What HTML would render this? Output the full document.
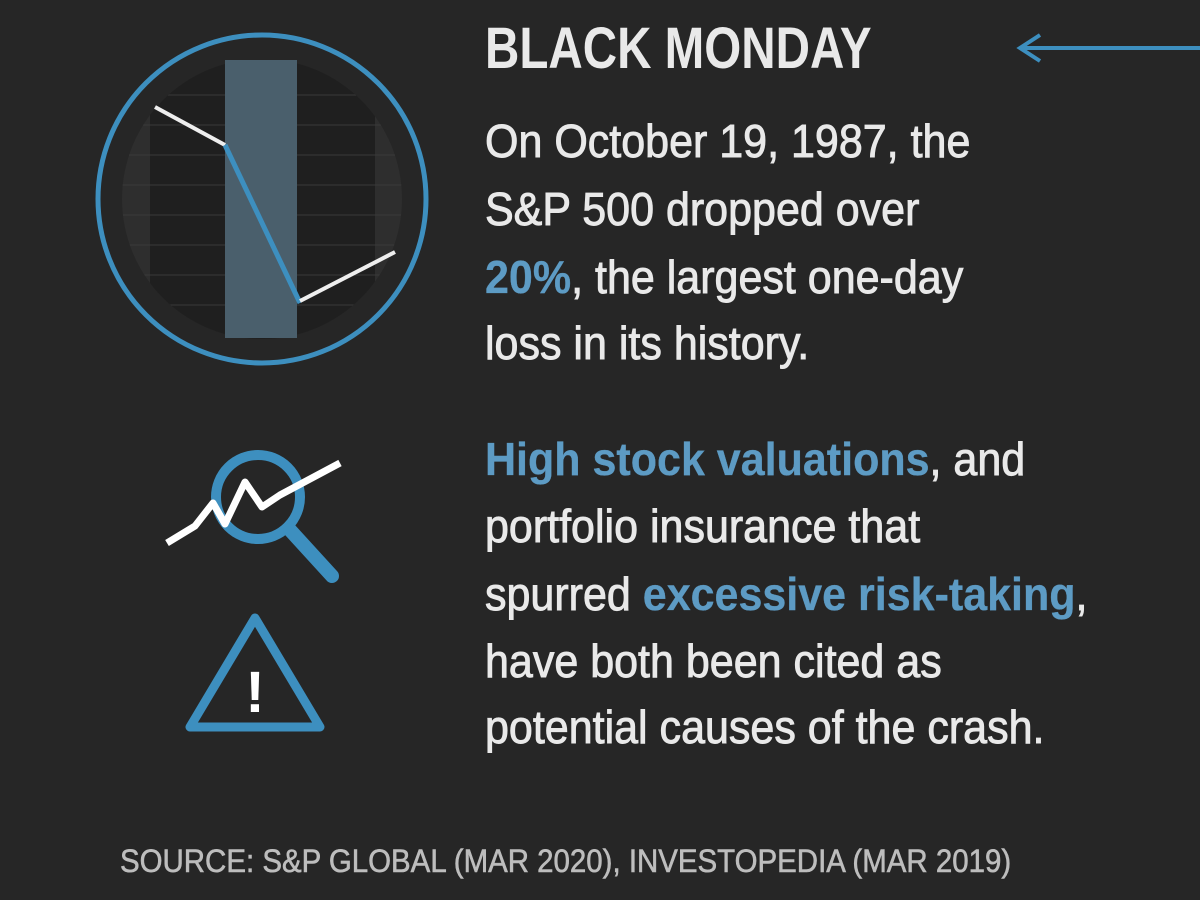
<!DOCTYPE html>
<html><head><style>
body{margin:0;width:1200px;height:900px;background:#262626;overflow:hidden;position:relative;font-family:"Liberation Sans Narrow","Liberation Sans",sans-serif;}
.t{position:absolute;left:485px;white-space:nowrap;transform-origin:0 0;transform:scaleX(0.935);color:#e9e9e9;}
.b{font-size:46px;line-height:46px;-webkit-text-stroke:0.9px #e9e9e9;}
.c{color:#5d9bc4;font-weight:bold;-webkit-text-stroke:0.3px #5d9bc4;}
</style></head><body>
<svg width="1200" height="900" style="position:absolute;left:0;top:0">
<defs><clipPath id="cc"><circle cx="262" cy="199" r="140"/></clipPath></defs>
<g clip-path="url(#cc)">
<rect x="120" y="60" width="285" height="280" fill="#2e2e2e"/>
<rect x="150" y="60" width="225" height="280" fill="#1f1f1f"/>
<g stroke="#3a3a3a" stroke-width="1">
<line x1="120" y1="95" x2="405" y2="95"/><line x1="120" y1="125" x2="405" y2="125"/><line x1="120" y1="155" x2="405" y2="155"/><line x1="120" y1="185" x2="405" y2="185"/><line x1="120" y1="215" x2="405" y2="215"/><line x1="120" y1="245" x2="405" y2="245"/><line x1="120" y1="275" x2="405" y2="275"/><line x1="120" y1="305" x2="405" y2="305"/>
</g>
</g>
<rect x="225" y="60" width="72" height="278" fill="#4a5f6c"/>
<circle cx="262" cy="199" r="164" fill="none" stroke="#3d8fbf" stroke-width="5"/>
<polyline points="155,107 225,145" fill="none" stroke="#eee" stroke-width="4"/>
<polyline points="225,145 300,303" fill="none" stroke="#3d8fbf" stroke-width="5"/>
<polyline points="300,301 395,252" fill="none" stroke="#eee" stroke-width="4"/>
<line x1="1022" y1="48" x2="1200" y2="48" stroke="#3d8fbf" stroke-width="4"/>
<polyline points="1040,35 1020,48 1040,61" fill="none" stroke="#3d8fbf" stroke-width="4"/>
<circle cx="258" cy="497" r="42" fill="none" stroke="#3d8fbf" stroke-width="10"/>
<line x1="290" y1="530" x2="332" y2="576" stroke="#3d8fbf" stroke-width="14" stroke-linecap="round"/>
<polyline points="167,543 195,526 213,503 225,524 245,482 262,507 280,495 340,463" fill="none" stroke="#fff" stroke-width="7" stroke-linejoin="round"/>
<polygon points="255,618 190,727 320,727" fill="none" stroke="#3d8fbf" stroke-width="9" stroke-linejoin="round"/>
<text x="255" y="712" text-anchor="middle" font-family="Liberation Sans" font-weight="bold" font-size="58" fill="#fff">!</text>
</svg>
<div class="t" style="top:20px;font-size:58px;font-weight:bold;line-height:58px;transform:scaleX(0.82)">BLACK MONDAY</div>
<div class="t b" style="top:118px">On October 19, 1987, the</div>
<div class="t b" style="top:186px">S&amp;P 500 dropped over</div>
<div class="t b" style="top:254px"><span class="c">20%</span>, the largest one-day</div>
<div class="t b" style="top:320px">loss in its history.</div>
<div class="t b" style="top:436px"><span class="c">High stock valuations</span>, and</div>
<div class="t b" style="top:503px">portfolio insurance that</div>
<div class="t b" style="top:571px">spurred <span class="c">excessive risk-taking</span>,</div>
<div class="t b" style="top:638px">have both been cited as</div>
<div class="t b" style="top:704px">potential causes of the crash.</div>
<div class="t" style="left:120px;top:845px;font-size:32px;line-height:32px;color:#bdbdbd;-webkit-text-stroke:0.6px #bdbdbd;transform:scaleX(0.92)">SOURCE: S&amp;P GLOBAL (MAR 2020), INVESTOPEDIA (MAR 2019)</div>
</body></html>
